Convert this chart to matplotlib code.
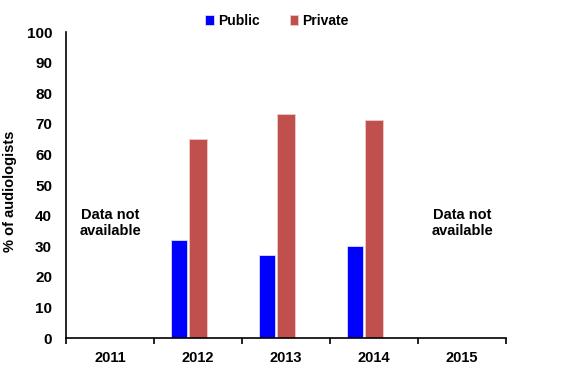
import matplotlib
matplotlib.use("Agg")
import matplotlib.pyplot as plt
import numpy as np

plt.rcParams['font.family'] = ['Liberation Sans', 'DejaVu Sans']
plt.rcParams['font.weight'] = 'bold'

years = ['2011', '2012', '2013', '2014', '2015']
public = [np.nan, 32, 27, 30.2, np.nan]
private = [np.nan, 65, 73.3, 71.1, np.nan]
missing_note = 'Data not\navailable'
missing_years = ['2011', '2015']

fs = 10.5

fig = plt.figure(figsize=(5.76, 3.91), dpi=100)
ax = fig.add_axes([0.1146, 0.1355, 0.7639, 0.7825])

x = np.arange(len(years))
ax.bar(x - 0.22, public, width=0.185, color='#0000ff', edgecolor='#ddddff',
       linewidth=0.6, label='Public')
ax.bar(x, private, width=0.195, color='#c0504d', edgecolor='#f0c8c8',
       linewidth=0.6, label='Private')

for y in missing_years:
    ax.text(years.index(y), 37.5, missing_note, ha='center', va='center',
            fontsize=fs, fontweight='bold', linespacing=1.15)

ax.set_xlim(-0.5, len(years) - 0.5)
ax.set_ylim(0, 100)
ax.set_yticks(range(0, 101, 10))
ax.set_xticks(x)
ax.set_xticklabels(years, fontsize=fs, fontweight='bold')
ax.tick_params(axis='x', length=0, pad=9)
ax.set_xticks(np.arange(-0.5, len(years)), minor=True)
ax.tick_params(axis='x', which='minor', length=4, width=1.2, direction='out')
ax.tick_params(axis='y', length=0, labelsize=11, pad=10)
for lab in ax.get_yticklabels():
    lab.set_fontweight('bold')
ax.set_ylabel('% of audiologists', fontsize=fs, fontweight='bold')
ax.yaxis.set_label_coords(-0.112, 0.48)

for s in ['top', 'right']:
    ax.spines[s].set_visible(False)
for s in ['left', 'bottom']:
    ax.spines[s].set_linewidth(1.2)

ax.legend(loc='upper center', bbox_to_anchor=(0.48, 1.10), ncol=2, frameon=False,
          handlelength=0.6, handleheight=0.7, handletextpad=0.3,
          columnspacing=2.2, prop={'weight': 'bold', 'size': 10})

fig.savefig('out.png', dpi=100)
